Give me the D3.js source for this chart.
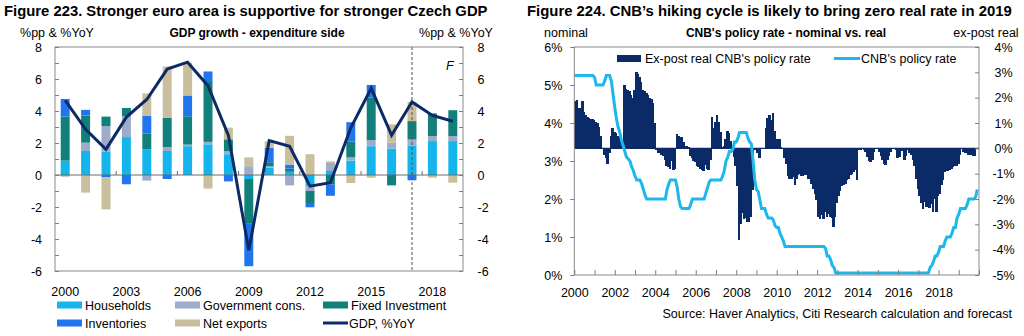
<!DOCTYPE html>
<html>
<head>
<meta charset="utf-8">
<script src="https://cdn.jsdelivr.net/npm/d3@7"></script>
<style>
  body { margin: 0; background: #fff; }
  svg { display: block; font-family: "Liberation Sans", Arial, sans-serif; }
  .axis path.domain { display: none; }
  .axis line { stroke: #7f7f7f; }
  .axis text { font-size: 12.5px; fill: #000; }
</style>
</head>
<body>
<div id="chart"></div>
<script>
// ---------- Figure 223 data (contributions, pp) ----------
const years = d3.range(2000, 2020);
const households = [0.9, 1.5, 1.45, 2.37, 1.6, 1.5, 1.8, 1.92, 1.3, -0.25, 0.45, 0.2, -0.7, 0.25, 0.9, 1.8, 1.65, 1.85, 2.12, 2.12];
const government = [-0.1, 0.52, 1.6, 1.3, -0.35, 0.25, 0.1, 0.15, 0.2, 0.55, 0.1, -0.65, -0.3, 0.5, 0.2, 0.38, 0.37, 0.37, 0.31, 0.31];
const fixedInvestment = [2.75, 1.7, 0.6, 0.52, 1.0, 1.83, 1.77, 3.8, 0.73, -2.8, 0.25, 0.2, -0.75, -0.6, 1.0, 2.65, -0.65, 1.15, 1.42, 1.62];
const inventories = [1.1, 0.35, -0.15, -0.58, 1.1, -0.25, 1.3, 0.6, -0.4, -2.65, 0.9, 0.25, -0.27, -0.7, 1.2, 0.8, 0, -0.33, 0, 0];
const netExports = [0, -1.1, -2.0, 0, 1.4, 3.2, 2.05, -0.85, 0.73, 0.55, 0.4, 1.8, 1.3, 0.1, -0.5, -0.17, 1.15, 1.2, -0.17, -0.48];
const gdp = [4.67, 2.85, 1.6, 3.62, 4.72, 6.62, 7.05, 5.58, 2.48, -4.7, 2.15, 1.8, -0.7, -0.48, 2.95, 5.42, 2.48, 4.57, 3.72, 3.36];
const leftTicks = [2000, 2003, 2006, 2009, 2012, 2015, 2018];

// ---------- Figure 224 data (monthly, Jan 2000 onwards) ----------
const policyRate = [
  5.25, 5.25, 5.25, 5.25, 5.25, 5.25, 5.25, 5.25, 5.25, 5.25, 5.25, 5.25,
  5.2, 5.0, 5.0, 5.0, 5.0, 5.0, 5.1, 5.25, 5.25, 5.25, 5.1, 4.75,
  4.4, 4.1, 3.9, 3.75, 3.55, 3.4, 3.25, 3.1, 3.05, 3.0, 2.85, 2.75,
  2.6, 2.5, 2.5, 2.5, 2.4, 2.25, 2.1, 2.0, 2.0, 2.0, 2.0, 2.0,
  2.0, 2.0, 2.0, 2.0, 2.0, 2.0, 2.0, 2.25, 2.4, 2.5, 2.5, 2.5,
  2.5, 2.3, 2.0, 1.8, 1.75, 1.75, 1.75, 1.75, 1.75, 1.85, 2.0, 2.0,
  2.0, 2.0, 2.0, 2.0, 2.0, 2.0, 2.15, 2.3, 2.45, 2.5, 2.5, 2.5,
  2.5, 2.5, 2.5, 2.5, 2.6, 2.75, 3.0, 3.1, 3.25, 3.25, 3.3, 3.5,
  3.5, 3.6, 3.75, 3.75, 3.75, 3.75, 3.75, 3.6, 3.5, 3.45, 3.0, 2.5,
  2.25, 2.2, 2.0, 1.75, 1.75, 1.75, 1.6, 1.5, 1.5, 1.5, 1.45, 1.3,
  1.25, 1.25, 1.1, 1.0, 0.9, 0.75, 0.75, 0.75, 0.75, 0.75, 0.75, 0.75,
  0.75, 0.75, 0.75, 0.75, 0.75, 0.75, 0.75, 0.75, 0.75, 0.75, 0.75, 0.75,
  0.75, 0.75, 0.75, 0.75, 0.75, 0.7, 0.5, 0.5, 0.4, 0.25, 0.2, 0.05,
  0.05, 0.05, 0.05, 0.05, 0.05, 0.05, 0.05, 0.05, 0.05, 0.05, 0.05, 0.05,
  0.05, 0.05, 0.05, 0.05, 0.05, 0.05, 0.05, 0.05, 0.05, 0.05, 0.05, 0.05,
  0.05, 0.05, 0.05, 0.05, 0.05, 0.05, 0.05, 0.05, 0.05, 0.05, 0.05, 0.05,
  0.05, 0.05, 0.05, 0.05, 0.05, 0.05, 0.05, 0.05, 0.05, 0.05, 0.05, 0.05,
  0.05, 0.05, 0.05, 0.05, 0.05, 0.05, 0.05, 0.2, 0.25, 0.35, 0.5, 0.5,
  0.6, 0.75, 0.75, 0.75, 0.9, 1.0, 1.0, 1.0, 1.1, 1.25, 1.25, 1.5,
  1.6, 1.75, 1.75, 1.75, 1.75, 1.85, 2.0, 2.0, 2.0, 2.0, 2.05, 2.25
];
const realRate = [
  1.85, 1.9, 1.6, 1.6, 1.85, 1.45, 1.3, 1.25, 1.2, 1.15, 1.15, 1.1,
  1.05, 1.0, 0.85, 0.5, 0.0, -0.25, -0.4, -0.6, -0.2, 0.5, 0.8, 0.65,
  0.6, 0.5, 0.45, 0.4, 0.3, 2.5, 2.35, 2.3, 2.25, 2.1, 2.0, 2.3,
  3.0, 2.95, 2.8, 2.6, 2.3, 2.25, 2.2, 2.1, 2.0, 1.95, 1.8, 1.0,
  -0.05, -0.2, -0.2, -0.25, -0.3, -0.45, -0.7, -0.75, -0.8, -0.5, -0.85, -0.8,
  0.55, 0.5, 0.45, 0.45, 0.25, 0.1, 0.1, 0.05, -0.3, -0.4, -0.5, -0.55,
  -0.7, -0.75, -0.8, -0.85, -0.9, -0.65, -0.8, -0.85, -0.45, 1.25, 0.8, 1.05,
  1.3, 1.05, 0.65, 0.05, 0.1, 0.35, 0.7, 0.6, 0.3, -0.05, -0.35, -0.7,
  -1.5, -3.6, -3.0, -2.55, -2.8, -2.75, -2.9, -2.9, -2.7, -1.65, -0.05, 0.0,
  -0.2, -0.4, 0.0, 0.0, 0.0, 0.8, 1.2, 1.3, 1.1, 1.4, 0.7, 0.35,
  0.35, 0.35, 0.05, 0.0, -0.4, -0.6, -1.1, -1.2, -1.2, -1.15, -1.45, -1.2,
  -1.05, -1.0, -1.1, -1.1, -1.05, -1.05, -1.2, -1.2, -1.4, -1.6, -1.8, -2.05,
  -2.7, -2.8, -2.65, -2.8, -2.5, -2.7, -2.6, -2.7, -2.75, -3.1, -2.7, -2.15,
  -1.9, -1.7, -1.5, -1.45, -1.4, -1.25, -1.2, -1.05, -1.0, -0.95, -0.85, -1.25,
  -0.05, -0.05, 0.0, -0.05, -0.15, -0.35, -0.5, -0.55, -0.45, -0.15, 0.0, 0.0,
  -0.15, -0.3, -0.45, -0.6, -0.65, -0.45, -0.3, -0.15, 0.0, 0.03, -0.05, -0.4,
  -0.35, -0.05, -0.1, -0.45, -0.3, -0.05, -0.2, -0.25, -0.45, -0.7, -1.2, -1.6,
  -1.9, -2.15, -2.4, -2.1, -2.3, -2.2, -2.35, -2.2, -2.5, -2.0, -2.5, -1.9,
  -1.8, -1.45, -1.25, -0.95, -0.9, -0.9, -0.85, -0.8, -0.75, -0.7, -0.7, -0.6,
  -0.25, 0.0, -0.15, -0.2, -0.2, -0.25, -0.25, -0.25, -0.3, -0.3
];
const rightTicks = d3.range(2000, 2020, 2);

// squeeze a bold title horizontally to the width it has in the original
function fitTitle(svg, x, y, width, label) {
    const t = svg.append('text')
        .attr('font-size', 15.5)
        .attr('font-weight', 'bold')
        .text(label);
    const len = t.node().getComputedTextLength();
    t.attr('transform', `translate(${x},${y}) scale(${width / len},1)`);
}

function draw() {
    const svg = d3.select('#chart')
        .append('svg')
        .attr('width', 1024)
        .attr('height', 336);

    const frameColor = '#8a8a8a';

    // ================= Figure 223 =================
    const L = { left: 55, right: 463, top: 47, bottom: 271 };

    fitTitle(svg, 4, 16, 484, 'Figure 223. Stronger euro area is supportive for stronger Czech GDP');

    svg.append('text').attr('x', 57).attr('y', 37).attr('font-size', 12.5)
        .attr('text-anchor', 'middle').text('%pp & %YoY');
    svg.append('text').attr('x', 257).attr('y', 37).attr('font-size', 12)
        .attr('font-weight', 'bold').attr('text-anchor', 'middle').text('GDP growth - expenditure side');
    svg.append('text').attr('x', 456).attr('y', 37).attr('font-size', 12.5)
        .attr('text-anchor', 'middle').text('%pp & %YoY');

    const series = [
        { key: 'households', name: 'Households', color: '#13b5ec', values: households },
        { key: 'government', name: 'Government cons.', color: '#9daccb', values: government },
        { key: 'fixed', name: 'Fixed Investment', color: '#12807a', values: fixedInvestment },
        { key: 'inventories', name: 'Inventories', color: '#2176f0', values: inventories },
        { key: 'netexports', name: 'Net exports', color: '#c9bf9c', values: netExports }
    ];

    const table = years.map((y, i) => {
        const row = { year: y };
        series.forEach(s => row[s.key] = s.values[i]);
        return row;
    });

    const stacked = d3.stack()
        .keys(series.map(s => s.key))
        .offset(d3.stackOffsetDiverging)(table);

    const xBand = d3.scaleBand()
        .domain(years)
        .range([L.left, L.right])
        .paddingInner(0.56)
        .paddingOuter(0.28);

    const yL = d3.scaleLinear()
        .domain([-6, 8])
        .range([L.bottom, L.top]);

    const barsL = svg.append('g');
    stacked.forEach((layer, k) => {
        barsL.append('g')
            .attr('fill', series[k].color)
            .selectAll('rect')
            .data(layer)
            .join('rect')
            .attr('x', d => xBand(d.data.year))
            .attr('width', xBand.bandwidth())
            .attr('y', d => yL(Math.max(d[0], d[1])))
            .attr('height', d => Math.abs(yL(d[0]) - yL(d[1])));
    });

    // zero line
    svg.append('line')
        .attr('x1', L.left).attr('x2', L.right)
        .attr('y1', yL(0)).attr('y2', yL(0))
        .attr('stroke', '#6b6b6b').attr('stroke-width', 1);

    // ticks on zero line between every third year
    const gap = xBand.step() - xBand.bandwidth();
    svg.append('g')
        .selectAll('line')
        .data(leftTicks.slice(1))
        .join('line')
        .attr('x1', d => xBand(d) - gap / 2)
        .attr('x2', d => xBand(d) - gap / 2)
        .attr('y1', yL(0)).attr('y2', yL(0) - 4)
        .attr('stroke', '#6b6b6b');

    // forecast divider
    svg.append('line')
        .attr('x1', xBand(2017) + xBand.bandwidth() / 2)
        .attr('x2', xBand(2017) + xBand.bandwidth() / 2)
        .attr('y1', L.top).attr('y2', L.bottom)
        .attr('stroke', '#555').attr('stroke-dasharray', '3,2');

    svg.append('text')
        .attr('x', 446).attr('y', 70)
        .attr('font-size', 12.5).attr('font-style', 'italic')
        .text('F');

    // GDP line
    const gdpLine = d3.line()
        .x((d, i) => xBand(years[i]) + xBand.bandwidth() / 2)
        .y(d => yL(d));

    svg.append('path')
        .datum(gdp)
        .attr('d', gdpLine)
        .attr('fill', 'none')
        .attr('stroke', '#0c2a66')
        .attr('stroke-width', 3)
        .attr('stroke-linejoin', 'miter');

    // frame
    svg.append('rect')
        .attr('x', L.left).attr('y', L.top)
        .attr('width', L.right - L.left).attr('height', L.bottom - L.top)
        .attr('fill', 'none').attr('stroke', frameColor);

    // y axes
    svg.append('g')
        .attr('class', 'axis')
        .attr('transform', `translate(${L.left},0)`)
        .call(d3.axisLeft(yL).ticks(14).tickSize(-4).tickPadding(13)
            .tickFormat(d => d % 2 === 0 ? d : ''));

    svg.append('g')
        .attr('class', 'axis')
        .attr('transform', `translate(${L.right},0)`)
        .call(d3.axisRight(yL).ticks(14).tickSize(-4).tickPadding(14.5)
            .tickFormat(d => d % 2 === 0 ? d : ''));

    // x labels
    svg.append('g')
        .selectAll('text')
        .data(leftTicks)
        .join('text')
        .attr('x', d => xBand(d) + xBand.bandwidth() / 2)
        .attr('y', 296)
        .attr('font-size', 12.5)
        .attr('text-anchor', 'middle')
        .text(d => d);

    // legend
    const legendL = [
        { name: 'Households', color: series[0].color, x: 57, y: 305 },
        { name: 'Government cons.', color: series[1].color, x: 175, y: 305 },
        { name: 'Fixed Investment', color: series[2].color, x: 323, y: 305 },
        { name: 'Inventories', color: series[3].color, x: 57, y: 323 },
        { name: 'Net exports', color: series[4].color, x: 175, y: 323 }
    ];
    const lg = svg.append('g');
    legendL.forEach(d => {
        lg.append('rect')
            .attr('x', d.x).attr('y', d.y - 3.5)
            .attr('width', 25).attr('height', 7)
            .attr('fill', d.color);
        lg.append('text')
            .attr('x', d.x + 28).attr('y', d.y + 4.5)
            .attr('font-size', 12.5)
            .text(d.name);
    });
    lg.append('line')
        .attr('x1', 323).attr('x2', 348)
        .attr('y1', 323).attr('y2', 323)
        .attr('stroke', '#0c2a66').attr('stroke-width', 3);
    lg.append('text')
        .attr('x', 349).attr('y', 327.5)
        .attr('font-size', 12.5)
        .text('GDP, %YoY');

    // ================= Figure 224 =================
    const R = { left: 574.3, right: 979, top: 47, bottom: 275 };

    fitTitle(svg, 527, 16, 485, 'Figure 224. CNB\u2019s hiking cycle is likely to bring zero real rate in 2019');

    svg.append('text').attr('x', 566).attr('y', 37).attr('font-size', 12.5)
        .attr('text-anchor', 'middle').text('nominal');
    svg.append('text').attr('x', 786).attr('y', 37).attr('font-size', 12)
        .attr('font-weight', 'bold').attr('text-anchor', 'middle').text('CNB\'s policy rate - nominal vs. real');
    svg.append('text').attr('x', 986).attr('y', 37).attr('font-size', 12.5)
        .attr('text-anchor', 'middle').text('ex-post real');

    const xTime = d3.scaleUtc()
        .domain([new Date(Date.UTC(2000, 0, 1)), new Date(Date.UTC(2020, 0, 1))])
        .range([R.left, R.right]);

    const yNom = d3.scaleLinear().domain([0, 6]).range([R.bottom, R.top]);
    const yReal = d3.scaleLinear().domain([-5, 4]).range([R.bottom, R.top]);

    const month = i => new Date(Date.UTC(2000, i, 1));
    const barColor = '#0a2b68';

    svg.append('g')
        .attr('fill', barColor)
        .attr('shape-rendering', 'crispEdges')
        .selectAll('rect')
        .data(realRate)
        .join('rect')
        .attr('x', (d, i) => xTime(month(i)))
        .attr('width', (d, i) => xTime(month(i + 1)) - xTime(month(i)) + 0.8)
        .attr('y', d => yReal(Math.max(0, d)))
        .attr('height', d => Math.abs(yReal(d) - yReal(0)));

    svg.append('line')
        .attr('x1', R.left).attr('x2', R.right)
        .attr('y1', yReal(0)).attr('y2', yReal(0))
        .attr('stroke', barColor).attr('stroke-width', 1.2);

    const rateLine = d3.line()
        .x((d, i) => xTime(month(i)))
        .y(d => yNom(d));

    svg.append('path')
        .datum(policyRate)
        .attr('d', rateLine)
        .attr('fill', 'none')
        .attr('stroke', '#1cb8ec')
        .attr('stroke-width', 3);

    svg.append('rect')
        .attr('x', R.left).attr('y', R.top)
        .attr('width', R.right - R.left).attr('height', R.bottom - R.top)
        .attr('fill', 'none').attr('stroke', frameColor);

    svg.append('g')
        .attr('class', 'axis')
        .attr('transform', `translate(${R.left},0)`)
        .call(d3.axisLeft(yNom).ticks(6).tickSize(4).tickPadding(8).tickFormat(d => d + '%'));

    const rightAxis = svg.append('g')
        .attr('class', 'axis')
        .attr('transform', `translate(${R.right},0)`)
        .call(d3.axisRight(yReal).ticks(9).tickSize(-4).tickFormat(d => d + '%'));
    rightAxis.selectAll('text')
        .attr('x', 24.5)
        .attr('text-anchor', 'middle');

    const bottomAxis = svg.append('g')
        .attr('class', 'axis')
        .attr('transform', `translate(0,${R.bottom})`)
        .call(d3.axisBottom(xTime).ticks(d3.utcYear.every(1)).tickSize(-5)
            .tickFormat(d => rightTicks.includes(d.getUTCFullYear()) ? d.getUTCFullYear() : ''));
    bottomAxis.selectAll('text')
        .attr('y', 22).attr('dy', null);

    // legend
    svg.append('rect')
        .attr('x', 617).attr('y', 55)
        .attr('width', 24).attr('height', 7)
        .attr('fill', barColor);
    svg.append('text')
        .attr('x', 645).attr('y', 63)
        .attr('font-size', 12.5)
        .text('Ex-post real CNB\'s policy rate');
    svg.append('line')
        .attr('x1', 834).attr('x2', 860)
        .attr('y1', 58.5).attr('y2', 58.5)
        .attr('stroke', '#1cb8ec').attr('stroke-width', 3);
    svg.append('text')
        .attr('x', 861).attr('y', 63)
        .attr('font-size', 12.5)
        .text('CNB\'s policy rate');

    svg.append('text')
        .attr('x', 1012).attr('y', 318)
        .attr('font-size', 12.5)
        .attr('text-anchor', 'end')
        .text('Source: Haver Analytics, Citi Research calculation and forecast');
}

draw();
</script>
</body>
</html>
